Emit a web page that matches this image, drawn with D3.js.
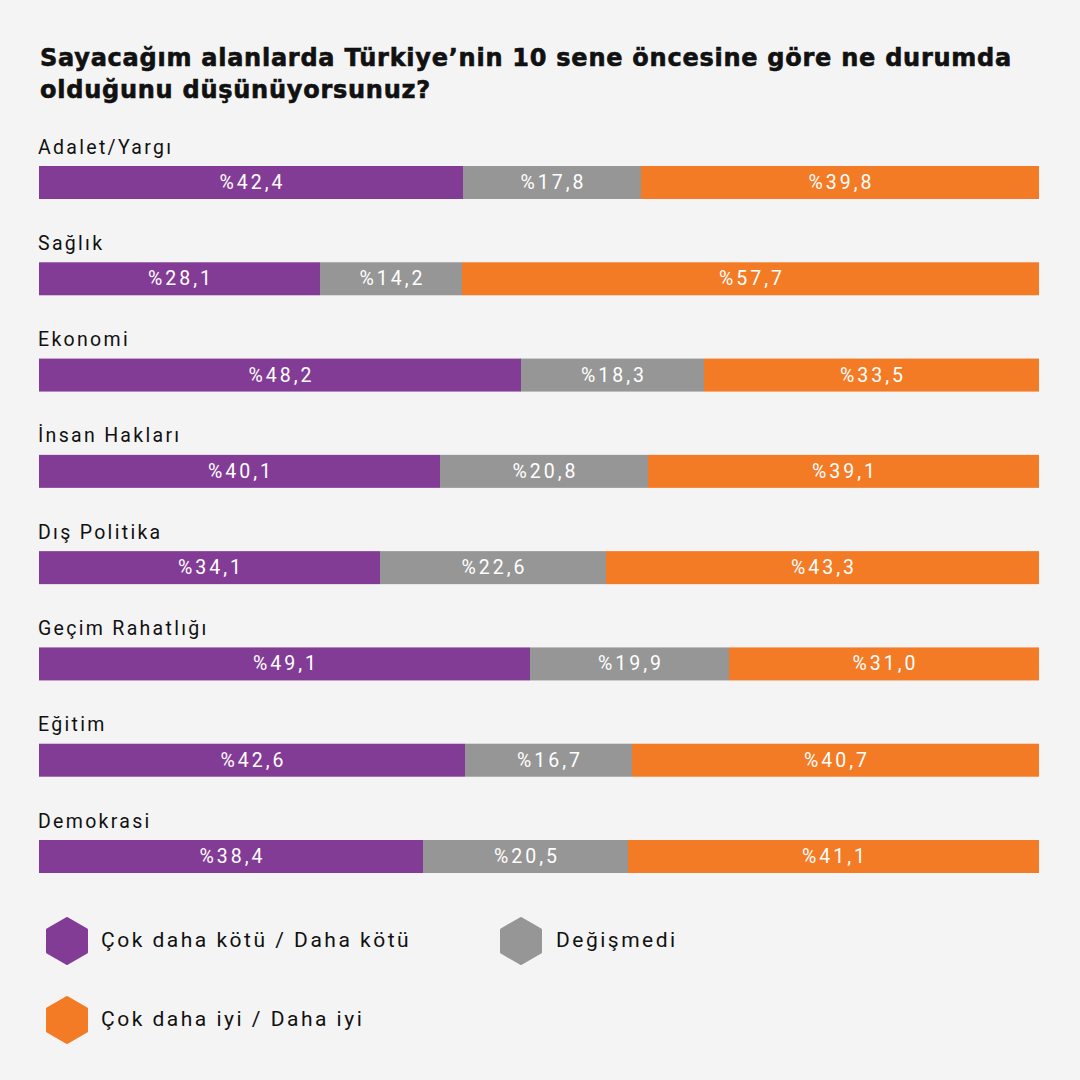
<!DOCTYPE html>
<html><head><meta charset="utf-8">
<script src="https://cdn.jsdelivr.net/npm/d3@7"></script>
<style>
html,body{margin:0;padding:0;background:#f4f4f4;}
svg{display:block;}
</style></head>
<body>
<svg id="c" width="1080" height="1080"></svg>
<script>
const categories = ["Adalet/Yargı","Sağlık","Ekonomi","İnsan Hakları","Dış Politika","Geçim Rahatlığı","Eğitim","Demokrasi"];
const worse = [42.4,28.1,48.2,40.1,34.1,49.1,42.6,38.4];
const same = [17.8,14.2,18.3,20.8,22.6,19.9,16.7,20.5];
const better = [39.8,57.7,33.5,39.1,43.3,31.0,40.7,41.1];
const seriesNames = ["Çok daha kötü / Daha kötü","Değişmedi","Çok daha iyi / Daha iyi"];
const colors = ["#833c96","#969696","#f47b25"];
const titleLines = ["Sayacağım alanlarda Türkiye’nin 10 sene öncesine göre ne durumda","olduğunu düşünüyorsunuz?"];

const svg = d3.select("#c");
svg.append("rect").attr("width",1080).attr("height",1080).attr("fill","#f4f4f4");

const titles = svg.append("g").selectAll("text").data(titleLines).join("text")
  .attr("x",40).attr("y",(d,i)=>66+i*32)
  .attr("font-family","'DejaVu Sans', Inter, sans-serif").attr("font-weight",700)
  .attr("font-size",24).attr("fill","#111").attr("stroke","#111").attr("stroke-width",0.6)
  .text(d=>d);
const w0 = titles.nodes()[0].getComputedTextLength();
const ls = Math.max(0,(972 - w0)/(titleLines[0].length));
titles.attr("letter-spacing",ls);

const rows = categories.map((c,i)=>({cat:c, vals:[worse[i],same[i],better[i]]}));
const x = d3.scaleLinear().domain([0,100]).range([39,1039]);
const yPos = d3.scalePoint().domain(categories).range([166,840]);
const barH = 33;
const labelFont = "Roboto, 'Open Sans', sans-serif";

const g = svg.append("g");
rows.forEach(r=>{
  const y0 = yPos(r.cat);
  const row = g.append("g");
  row.append("text").attr("x",38).attr("y",y0-12.5)
    .attr("font-family",labelFont).attr("font-size",19.5).attr("letter-spacing",2.3)
    .attr("fill","#111").text(r.cat);
  let cum = 0;
  const segs = r.vals.map((v,k)=>{const s={v,k,a:cum,b:cum+v}; cum+=v; return s;});
  row.selectAll("rect").data(segs).join("rect")
    .attr("x",d=>x(d.a)).attr("width",d=>x(d.b)-x(d.a))
    .attr("y",y0).attr("height",barH).attr("fill",d=>colors[d.k]);
  row.selectAll("text.v").data(segs).join("text").attr("class","v")
    .attr("x",d=>(x(d.a)+x(d.b))/2+1.5).attr("y",y0+23)
    .attr("text-anchor","middle").attr("fill","#fff")
    .attr("font-family",labelFont).attr("font-size",19.5).attr("letter-spacing",3)
    .text(d=>"%"+d3.format(".1f")(d.v).replace(".",","));
});

const legend = [{i:0,cx:67,cy:941,tx:101},{i:1,cx:521,cy:941,tx:556},{i:2,cx:67,cy:1020,tx:101}];
const R = 22.5;
const hexPts = d3.range(6).map(k=>{const a=-Math.PI/2+k*Math.PI/3; return [R*Math.cos(a),R*Math.sin(a)];});
const hex = d3.line()(hexPts)+"Z";
const lg = svg.append("g").selectAll("g").data(legend).join("g");
lg.append("path").attr("d",hex).attr("transform",d=>`translate(${d.cx},${d.cy})`)
  .attr("fill",d=>colors[d.i]).attr("stroke",d=>colors[d.i]).attr("stroke-width",3).attr("stroke-linejoin","round");
lg.append("text").attr("x",d=>d.tx).attr("y",d=>d.cy+6)
  .attr("font-family",labelFont).attr("font-size",21).attr("letter-spacing",2.5)
  .attr("fill","#111").text(d=>seriesNames[d.i]);
</script>
</body></html>
